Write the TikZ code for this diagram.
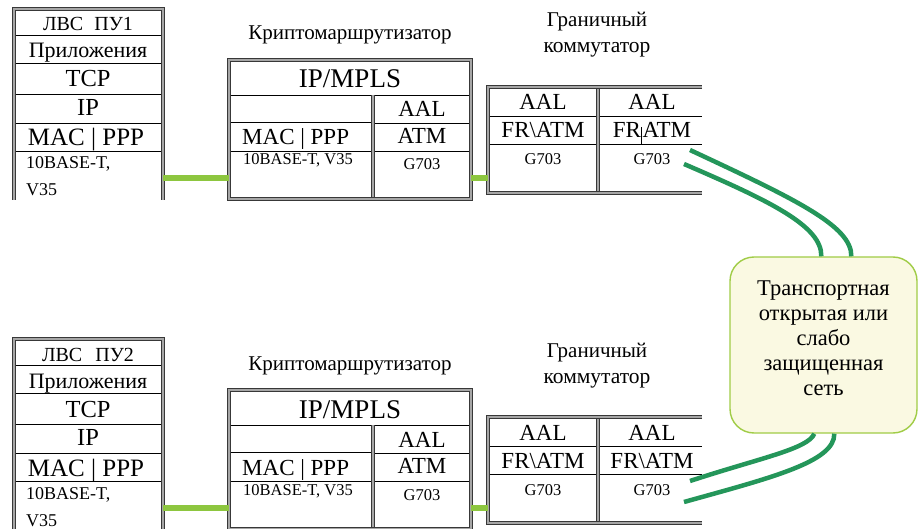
\documentclass[tikz,border=0pt]{standalone}
\usepackage{fontspec}
\setmainfont{Liberation Serif}
\usetikzlibrary{calc}

\definecolor{linkgreen}{RGB}{141,198,63}
\definecolor{netgreen}{RGB}{36,150,90}
\definecolor{cloudfill}{RGB}{250,249,226}
\definecolor{cloudedge}{RGB}{160,204,70}

\newcommand\fsz[1]{\fontsize{#1}{#1}\selectfont}

\tikzset{
  frame/.style={draw=black!78, double=black!35, double distance=1.5pt, line width=1pt},
  cellrule/.style={draw=black, line width=0.9pt},
  area/.style={inner sep=0pt, outer sep=0pt},
  lbl/.style={inner sep=0pt, anchor=base},
  lbll/.style={inner sep=0pt, anchor=base west},
  link/.style={draw=linkgreen, line width=6pt},
  net/.style={draw=netgreen, line width=4.5pt},
  cloudbox/.style={draw=cloudedge, fill=cloudfill, line width=1.4pt,
    rounded corners=24pt, inner sep=0pt, minimum width=187pt, minimum height=176pt},
}

% One branch: host stack, crypto router, edge switch.
% #1 name suffix, #2 vertical offset, #3 host label, #4 FR/ATM text of the right switch port
\newcommand\drawbranch[4]{%
\begin{scope}[yshift=-#2pt]
  % host protocol stack
  \node[area, minimum width=149pt, minimum height=191pt] (stack#1) at (88.5,104.5) {};
  \foreach \yy in {35,63,94,123,151} \draw[cellrule] (14,\yy) -- (163,\yy);
  \draw[frame] (stack#1.south west) -- (stack#1.north west) -- (stack#1.north east) -- (stack#1.south east);
  \node[lbl, font=\fsz{20}] (lan#1) at (88,31) {#3};
  \node[lbl, font=\fsz{22}] (app#1) at (88,58) {Приложения};
  \node[lbl, font=\fsz{24.5}] (tcp#1) at (88,87) {TCP};
  \node[lbl, font=\fsz{24.5}] (ip#1) at (88,115.5) {IP};
  \node[lbl, font=\fsz{25}] (mac#1) at (86,146) {MAC | PPP};
  \node[lbll, font=\fsz{18}] (phyA#1) at (26,169) {10BASE-T,};
  \node[lbll, font=\fsz{18}] (phyB#1) at (26,196) {V35};

  % crypto router
  \node[lbl, font=\fsz{21}] (cname#1) at (350,40) {Криптомаршрутизатор};
  \node[area, minimum width=242pt, minimum height=139pt] (crypto#1) at (350,129.5) {};
  \draw[cellrule] (229,95) -- (471,95);
  \draw[cellrule] (229,122) -- (373,122);
  \draw[cellrule] (373,123) -- (471,123);
  \draw[cellrule] (229,151) -- (471,151);
  \draw[frame] (373,95) -- (373,199);
  \draw[frame] (crypto#1.south west) rectangle (crypto#1.north east);
  \node[lbl, font=\fsz{27}] (mpls#1) at (350,88) {IP/MPLS};
  \node[lbl, font=\fsz{23}] (caal#1) at (422,117) {AAL};
  \node[lbl, font=\fsz{23}] (catm#1) at (422,143.5) {ATM};
  \node[lbll, font=\fsz{23}] (cmac#1) at (242,145) {MAC | PPP};
  \node[lbll, font=\fsz{16.5}] (cphy#1) at (243,165) {10BASE-T, V35};
  \node[lbl, font=\fsz{16.5}] (cg#1) at (422,170) {G703};

  % edge switch
  \node[lbl, font=\fsz{21}] (sname#1) at (597,27) {Граничный};
  \node[lbl, font=\fsz{21.5}] (sname2#1) at (597,53) {коммутатор};
  \node[area, minimum width=214pt, minimum height=106pt] (switch#1) at (595,140) {};
  \draw[cellrule] (488,116) -- (702,116);
  \draw[cellrule] (488,144) -- (702,144);
  \draw[frame] (598,87) -- (598,193);
  \draw[frame] (switch#1.north east) -- (switch#1.north west) -- (switch#1.south west) -- (switch#1.south east);
  \node[lbl, font=\fsz{23}] (saalA#1) at (543,110) {AAL};
  \node[lbl, font=\fsz{23}] (sfrA#1) at (543,138) {FR\textbackslash ATM};
  \node[lbl, font=\fsz{16.5}] (sgA#1) at (543,165) {G703};
  \node[lbl, font=\fsz{23}] (saalB#1) at (652,110) {AAL};
  \node[lbl, font=\fsz{23}] (sfrB#1) at (652,138) {#4};
  \node[lbl, font=\fsz{16.5}] (sgB#1) at (652,165) {G703};

  % physical links
  \coordinate (lane#1) at (0,178);
  \draw[link] (stack#1.east |- lane#1) -- (crypto#1.west |- lane#1);
  \draw[link] (crypto#1.east |- lane#1) -- (switch#1.west |- lane#1);
\end{scope}}

\begin{document}
\begin{tikzpicture}[x=1pt, y=-1pt]
  \useasboundingbox (0,0) rectangle (918,529);
  \clip (0,0) rectangle (918,529);

  \drawbranch{A}{0}{ЛВС\hspace{11pt}ПУ1}{FR\hspace{0.5pt}\rule[-6pt]{0.6pt}{17pt}\hspace{0.5pt}ATM}
  \drawbranch{B}{330}{ЛВС\hspace{13pt}ПУ2}{FR\textbackslash ATM}

  % transport network
  \node[cloudbox] (cloud) at (823.5,345) {};
  \node[inner sep=0pt, anchor=north, align=center, font=\fontsize{22.5}{25}\selectfont]
    (cloudtext) at (823.5,281) {Транспортная\\открытая или\\слабо\\защищенная\\сеть};

  % uplinks from the edge switches into the network
  \coordinate (upA1) at (690,150);
  \coordinate (upA2) at (684,164);
  \coordinate (upB1) at (690,481);
  \coordinate (upB2) at (684,502);
  \draw[net] (upA1) .. controls (795,199) and (852,226) .. ([xshift=122pt]cloud.north west);
  \draw[net] (upA2) .. controls (770,201) and (822,226) .. ([xshift=92pt]cloud.north west);
  \draw[net] (upB1) .. controls (760,458) and (808,449) .. ([xshift=85pt]cloud.south west);
  \draw[net] (upB2) .. controls (770,478) and (835,462) .. ([xshift=105pt]cloud.south west);
\end{tikzpicture}
\end{document}
